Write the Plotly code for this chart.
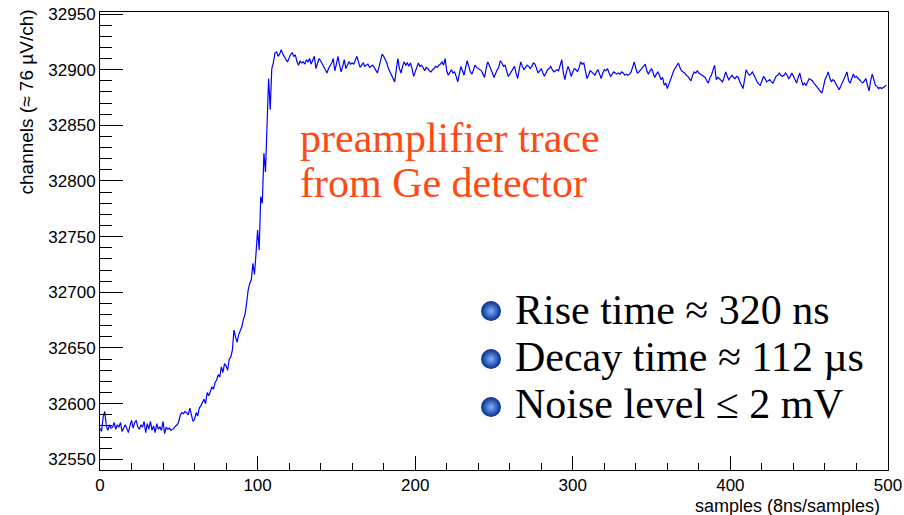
import plotly.graph_objects as go

# Preamplifier trace from a Ge detector, one ADC reading per sample (8 ns / sample)
samples = list(range(500))
adc_channels = [
    32578, 32575, 32588, 32593, 32580, 32576, 32581, 32578, 32579, 32583, 32577, 32581, 32579, 32583, 32575, 32579, 32581, 32578, 32574, 32580,
    32585, 32578, 32583, 32585, 32579, 32577, 32581, 32579, 32584, 32574, 32582, 32577, 32584, 32576, 32580, 32574, 32582, 32577, 32579, 32576,
    32584, 32573, 32579, 32577, 32578, 32576, 32577, 32578, 32580, 32581, 32584, 32590, 32592, 32591, 32593, 32592, 32590, 32596, 32590, 32584,
    32586, 32592, 32589, 32596, 32598, 32601, 32604, 32600, 32610, 32607, 32612, 32615, 32613, 32619, 32621, 32626, 32624, 32633, 32628, 32636,
    32634, 32630, 32640, 32642, 32648, 32666, 32660, 32655, 32662, 32666, 32669, 32676, 32680, 32690, 32702, 32708, 32711, 32726, 32716, 32735,
    32756, 32738, 32786, 32780, 32825, 32808, 32852, 32892, 32864, 32901, 32906, 32915, 32916, 32912, 32914, 32918, 32914, 32911, 32909, 32907,
    32910, 32914, 32915, 32912, 32913, 32907, 32904, 32908, 32906, 32907, 32905, 32909, 32907, 32910, 32905, 32908, 32912, 32901, 32906, 32910,
    32908, 32905, 32903, 32899, 32897, 32901, 32903, 32906, 32910, 32899, 32905, 32912, 32904, 32898, 32903, 32909, 32901, 32904, 32907, 32905,
    32906, 32905, 32909, 32912, 32907, 32902, 32904, 32906, 32903, 32904, 32905, 32902, 32903, 32904, 32902, 32899, 32897, 32902, 32908, 32914,
    32912, 32909, 32906, 32901, 32898, 32895, 32892, 32889, 32900, 32910, 32901, 32897, 32903, 32907, 32904, 32906, 32903, 32906, 32901, 32894,
    32898, 32902, 32906, 32903, 32904, 32902, 32899, 32902, 32901, 32899, 32898, 32900, 32901, 32903, 32902, 32904, 32905, 32907, 32904, 32910,
    32899, 32895, 32898, 32900, 32897, 32898, 32894, 32889, 32896, 32903, 32899, 32895, 32902, 32908, 32903, 32898, 32896, 32901, 32904, 32902,
    32901, 32900, 32899, 32896, 32893, 32901, 32907, 32904, 32901, 32897, 32893, 32897, 32900, 32902, 32908, 32906, 32903, 32904, 32898, 32894,
    32896, 32898, 32901, 32903, 32897, 32892, 32900, 32907, 32903, 32900, 32902, 32904, 32903, 32901, 32903, 32906, 32905, 32900, 32897, 32899,
    32901, 32897, 32894, 32897, 32900, 32901, 32903, 32900, 32898, 32899, 32900, 32899, 32904, 32909, 32897, 32891, 32898, 32903, 32899, 32894,
    32898, 32901, 32900, 32898, 32902, 32907, 32905, 32906, 32899, 32892, 32895, 32899, 32898, 32896, 32895, 32898, 32900, 32896, 32892, 32897,
    32900, 32899, 32901, 32897, 32894, 32896, 32898, 32897, 32896, 32897, 32896, 32898, 32897, 32895, 32896, 32895, 32896, 32898, 32903, 32907,
    32901, 32897, 32898, 32900, 32902, 32904, 32905, 32899, 32896, 32899, 32901, 32897, 32893, 32896, 32898, 32895, 32891, 32893, 32886, 32888,
    32883, 32887, 32892, 32895, 32899, 32901, 32904, 32906, 32902, 32899, 32898, 32897, 32895, 32894, 32892, 32890, 32895, 32898, 32897, 32899,
    32897, 32896, 32895, 32894, 32893, 32890, 32888, 32893, 32895, 32900, 32904, 32891, 32893, 32892, 32890, 32889, 32893, 32898, 32894, 32891,
    32893, 32895, 32893, 32892, 32894, 32893, 32889, 32886, 32883, 32891, 32900, 32897, 32895, 32896, 32898, 32895, 32891, 32889, 32887, 32886,
    32890, 32894, 32892, 32889, 32890, 32891, 32889, 32888, 32891, 32894, 32895, 32897, 32895, 32894, 32895, 32897, 32895, 32892, 32894, 32897,
    32894, 32890, 32888, 32893, 32897, 32891, 32886, 32888, 32886, 32889, 32892, 32891, 32890, 32888, 32886, 32885, 32883, 32881, 32879, 32884,
    32891, 32894, 32898, 32893, 32889, 32891, 32890, 32887, 32885, 32882, 32885, 32888, 32891, 32895, 32898, 32890, 32888, 32892, 32896, 32893,
    32894, 32892, 32891, 32889, 32888, 32890, 32892, 32886, 32881, 32890, 32896, 32891, 32886, 32885, 32883, 32884, 32883, 32884, 32885, 32886,
]

x_range = [0, 500]
y_range = [32540.4, 32951.8]

trace_label = ["preamplifier trace", "from Ge detector"]
bullet_lines = ["Rise time ≈ 320 ns", "Decay time ≈ 112 µs", "Noise level ≤ 2 mV"]
x_title = "samples (8ns/samples)"
y_title = "channels (≈ 76 µV/ch)"

# figure geometry (pixels)
W, H = 904, 515
L, R, T, B = 100, 16, 12, 45
PW, PH = W - L - R, H - T - B


def px_x(p):
    return (p - L) / PW


def px_y(p):
    return 1 - (p - T) / PH


def data_x(p):
    return x_range[0] + (p - L) / PW * (x_range[1] - x_range[0])


def data_y(p):
    return y_range[1] - (p - T) / PH * (y_range[1] - y_range[0])


fig = go.Figure()
fig.add_trace(go.Scatter(
    x=samples, y=adc_channels, mode="lines",
    line=dict(color="#0000ff", width=1.2),
    hoverinfo="skip", showlegend=False,
))

# bullet spheres in front of the parameter list
bullet_rows = [311, 359, 407]
fig.add_trace(go.Scatter(
    x=[data_x(491)] * 3, y=[data_y(r) for r in bullet_rows], mode="markers",
    marker=dict(size=20, color="#062a8e", line=dict(width=0),
                gradient=dict(type="radial", color="#7fb2ff")),
    hoverinfo="skip", showlegend=False, cliponaxis=False,
))

serif = "Liberation Serif, Times New Roman, serif"
sans = "Liberation Sans, Arial, Helvetica, sans-serif"

annotations = []
for text, row in zip(trace_label, [138, 183]):
    annotations.append(dict(
        text=text, x=px_x(298), y=px_y(row), xref="paper", yref="paper",
        xanchor="left", yanchor="middle", showarrow=False,
        font=dict(family=serif, size=42, color="#ff4a14"),
    ))
for text, row in zip(bullet_lines, [310, 357, 404]):
    annotations.append(dict(
        text=text, x=px_x(513), y=px_y(row), xref="paper", yref="paper",
        xanchor="left", yanchor="middle", showarrow=False,
        font=dict(family=serif, size=42, color="black"),
    ))
annotations.append(dict(
    text=x_title, x=px_x(882), y=px_y(506), xref="paper", yref="paper",
    xanchor="right", yanchor="middle", showarrow=False,
    font=dict(family=sans, size=18, color="black"),
))
annotations.append(dict(
    text=y_title, x=px_x(26), y=px_y(8), xref="paper", yref="paper",
    xanchor="center", yanchor="top", textangle=-90, showarrow=False,
    font=dict(family=sans, size=19, color="black"),
))

axis_common = dict(
    showline=True, linecolor="black", linewidth=1, mirror=True,
    showgrid=False, zeroline=False, ticks="inside", tickcolor="black",
    tickfont=dict(family=sans, size=17, color="black"), automargin=False,
)

fig.update_layout(
    width=W, height=H,
    margin=dict(l=L, r=R, t=T, b=B, pad=0, autoexpand=False),
    paper_bgcolor="white", plot_bgcolor="white",
    annotations=annotations,
    xaxis=dict(range=x_range, dtick=100, tick0=0, ticklen=14,
               minor=dict(ticks="inside", ticklen=7, dtick=20, tickcolor="black"),
               **axis_common),
    yaxis=dict(range=y_range, dtick=50, tick0=32550, ticklen=23,
               minor=dict(ticks="inside", ticklen=12, dtick=10, tickcolor="black"),
               tickformat="d", **axis_common),
)

fig.write_html("out.html")
